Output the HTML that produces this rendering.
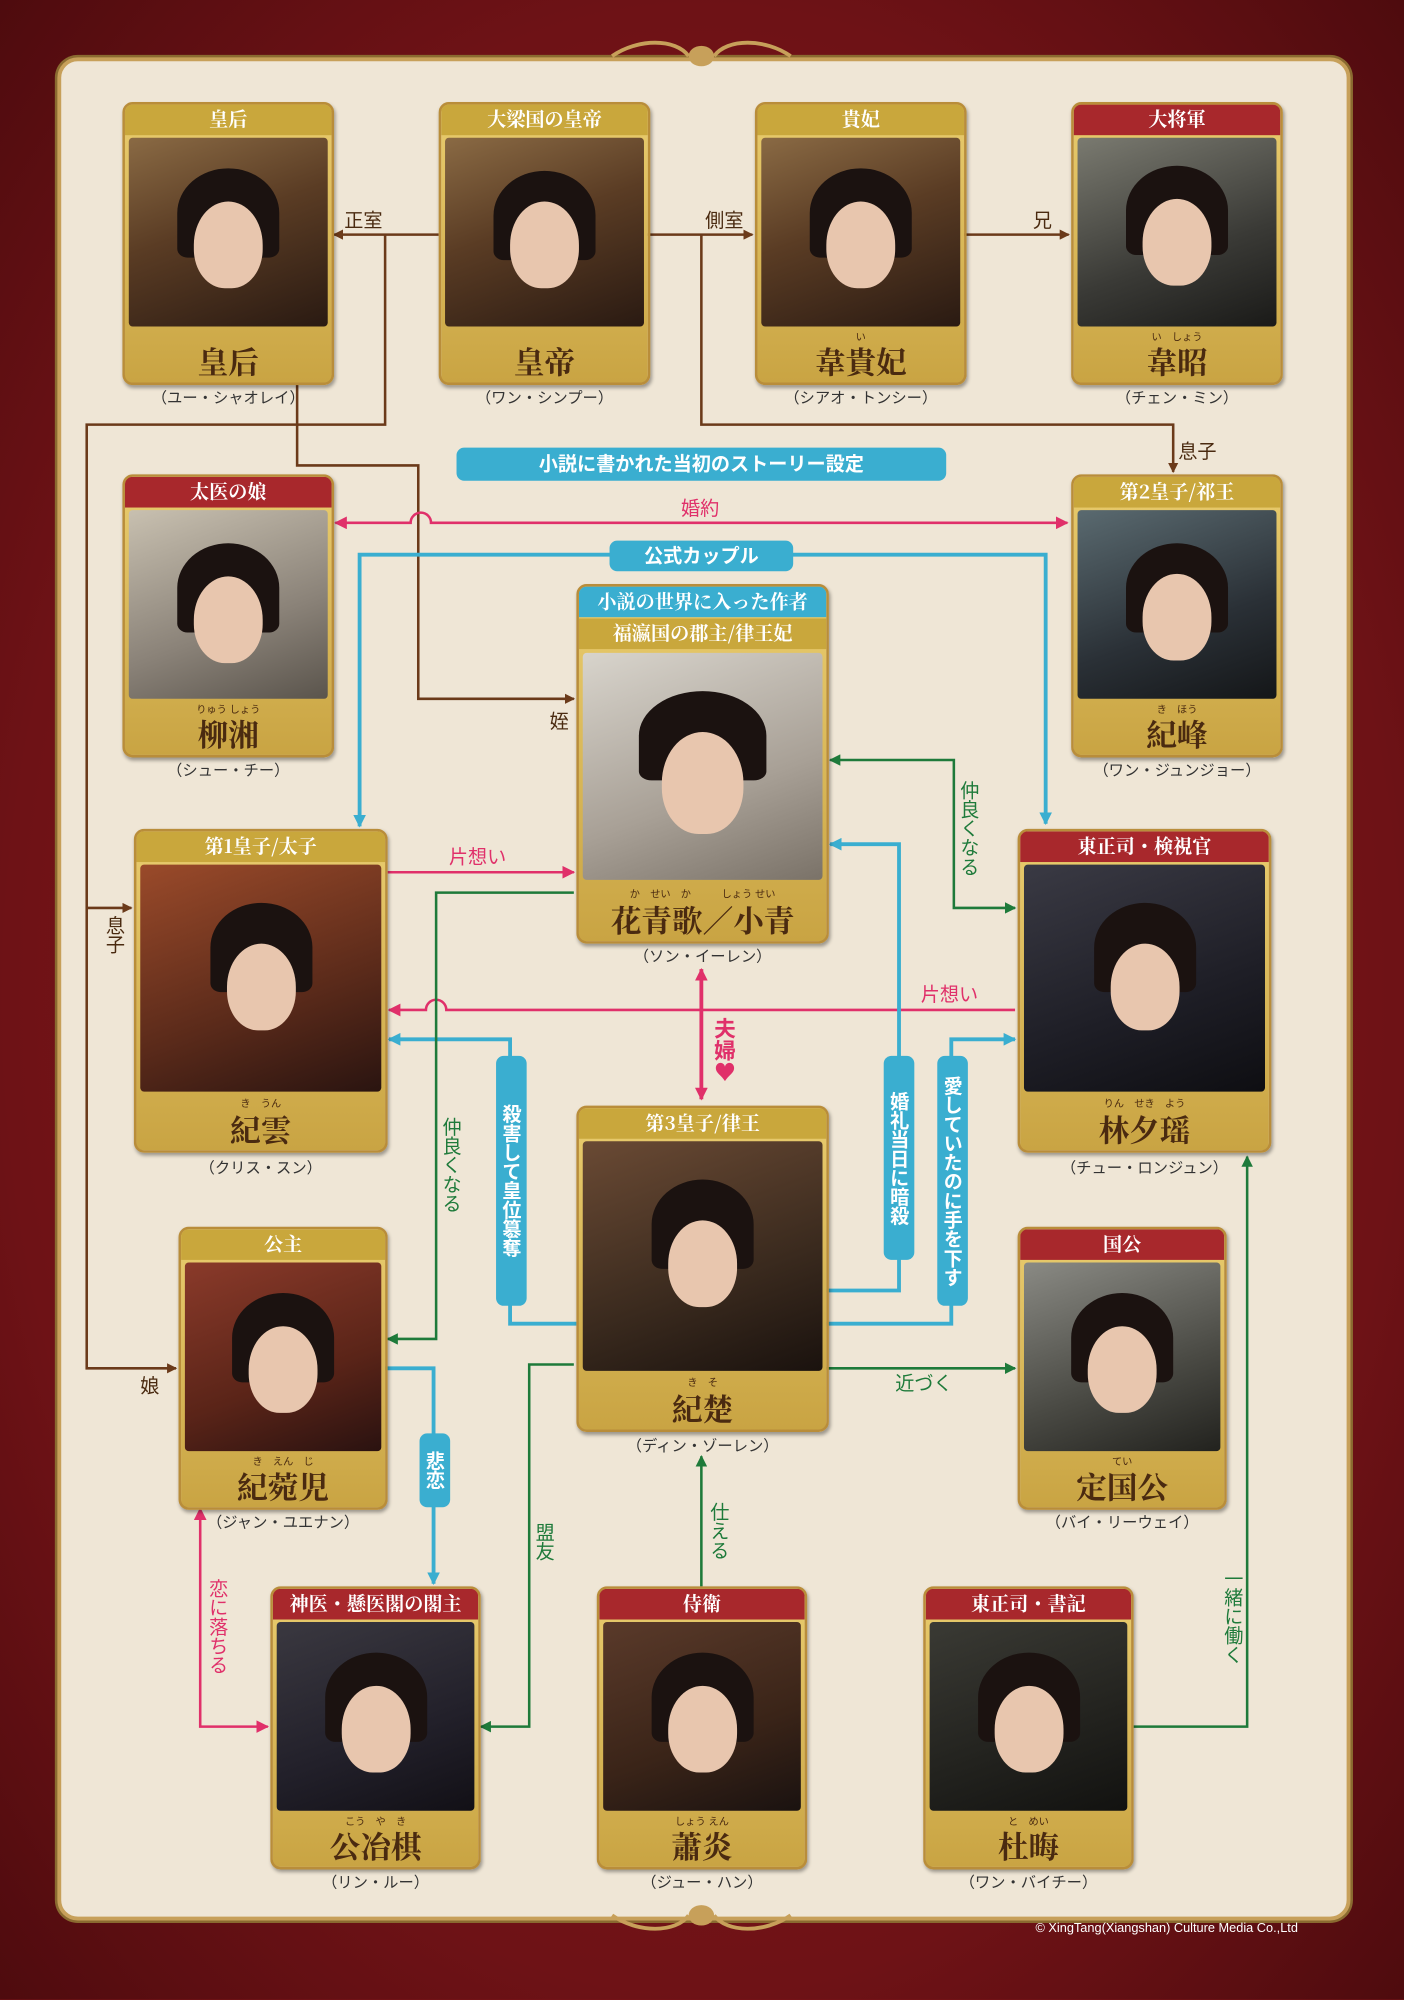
<!DOCTYPE html>
<html><head><meta charset="utf-8">
<style>
html,body{margin:0;padding:0;width:1404px;height:2000px;overflow:hidden;background:#7a1418;}
#wrap{position:absolute;left:0;top:0;width:1101px;height:1568px;transform:scale(1.27520);transform-origin:0 0;
background:radial-gradient(ellipse at 50% 50%,#8e1c20 0%,#6e1216 70%,#4e0b0e 100%);font-family:"Liberation Sans","Noto Sans CJK JP",sans-serif;}
#panel{position:absolute;left:45px;top:45px;width:1008px;height:1455px;background:#efe6d6;border:3px solid #c7a05a;border-radius:16px;box-shadow:0 0 0 2px #8a6a30;}
.card{position:absolute;border:2px solid #b98d3a;border-radius:8px;background:linear-gradient(#e9cc6e,#c9a443);box-shadow:1px 2px 3px rgba(0,0,0,.35);overflow:hidden;}
.hd{position:absolute;left:0;right:0;top:0;height:24px;background:#c9a73c;color:#fff;font-weight:bold;font-size:15px;text-align:center;line-height:24px;font-family:"Noto Serif CJK SC","Noto Sans CJK JP",serif;}
.hd.r{background:#a8282c;}
.hd.b{background:#3aaed0;}
.ph{position:absolute;left:3px;right:3px;border-radius:3px;background:linear-gradient(160deg,#8a6a44 0%,#5a3c24 45%,#2a1a12 100%);}
.face{position:absolute;left:50%;width:54px;height:68px;margin-left:-27px;border-radius:50% 50% 45% 45%;background:#e8c6ae;}
.hair{position:absolute;left:50%;width:80px;height:70px;margin-left:-40px;border-radius:50% 50% 10% 10%;background:#1b1210;}
.nm{position:absolute;left:0;right:0;bottom:3px;text-align:center;font-family:"Noto Serif CJK SC","Noto Sans CJK JP",serif;font-weight:bold;color:#4a2a10;font-size:24px;line-height:28px;}
.rb{position:absolute;left:0;right:0;text-align:center;font-size:8px;color:#4a2a10;}
.sub{position:absolute;font-size:12px;color:#333;text-align:center;font-family:"Noto Sans CJK JP",sans-serif;}
.lab{position:absolute;font-size:15px;font-family:"Noto Sans CJK JP",sans-serif;white-space:nowrap;}
.v{writing-mode:vertical-rl;}
.pill{position:absolute;background:#3aaed0;color:#fff;font-weight:bold;font-size:15px;border-radius:6px;text-align:center;font-family:"Noto Sans CJK JP",sans-serif;}
</style></head><body><div id="wrap">
<div id="panel"></div>

<svg style="position:absolute;left:0;top:0" width="1101" height="1568">
<defs>
<marker id="ab" markerWidth="8" markerHeight="8" refX="7" refY="4" orient="auto" markerUnits="userSpaceOnUse"><path d="M0,0L8,4L0,8z" fill="#6b3a1a"/></marker>
<marker id="ap" markerWidth="10" markerHeight="10" refX="9" refY="5" orient="auto-start-reverse" markerUnits="userSpaceOnUse"><path d="M0,0L10,5L0,10z" fill="#e0306a"/></marker>
<marker id="al" markerWidth="10" markerHeight="10" refX="9" refY="5" orient="auto-start-reverse" markerUnits="userSpaceOnUse"><path d="M0,0L10,5L0,10z" fill="#3aaed0"/></marker>
<marker id="ag" markerWidth="9" markerHeight="9" refX="8" refY="4.5" orient="auto-start-reverse" markerUnits="userSpaceOnUse"><path d="M0,0L9,4.5L0,9z" fill="#1e7a3a"/></marker>
</defs>
<g fill="none" stroke="#6b3a1a" stroke-width="2">
<path d="M344,184H262" marker-end="url(#ab)"/>
<path d="M508,184H590" marker-end="url(#ab)"/>
<path d="M756,184H838" marker-end="url(#ab)"/>
<path d="M302,184V333H68V1073H138" marker-end="url(#ab)"/>
<path d="M68,712H103" marker-end="url(#ab)"/>
<path d="M233,300V365H328V548H450" marker-end="url(#ab)"/>
<path d="M550,184V333H920V370" marker-end="url(#ab)"/>
</g>
<g fill="none" stroke="#e0306a" stroke-width="2">
<path d="M263,410H322A8,8 0 0 1 338,410H837" marker-start="url(#ap)" marker-end="url(#ap)"/>
<path d="M304,684H450" marker-end="url(#ap)"/>
<path d="M796,792H350A8,8 0 0 0 334,792H305" marker-end="url(#ap)"/>
<path d="M550,760V862" marker-start="url(#ap)" marker-end="url(#ap)" stroke-width="3"/>
<path d="M157,1183V1354H210" marker-start="url(#ap)" marker-end="url(#ap)"/>
</g>
<g fill="none" stroke="#3aaed0" stroke-width="3">
<path d="M282,648V435H820V646" marker-end="url(#al)" marker-start="url(#al)"/>
<path d="M452,1038H400V815H305" marker-end="url(#al)"/>
<path d="M648,1012H705V662H651" marker-end="url(#al)"/>
<path d="M648,1038H746V815H796" marker-end="url(#al)"/>
<path d="M302,1073H340V1242" marker-end="url(#al)"/>
</g>
<g fill="none" stroke="#1e7a3a" stroke-width="2">
<path d="M651,596H748V712H796" marker-start="url(#ag)" marker-end="url(#ag)"/>
<path d="M450,700H342V1050H304" marker-end="url(#ag)"/>
<path d="M648,1073H796" marker-end="url(#ag)"/>
<path d="M450,1070H415V1354H377" marker-end="url(#ag)"/>
<path d="M550,1244V1142" marker-end="url(#ag)"/>
<path d="M889,1354H978V907" marker-end="url(#ag)"/>
</g>
<g fill="none" stroke="#c7a05a" stroke-width="3">
<path d="M480,44C500,30 530,30 540,44M620,44C600,30 570,30 560,44"/>
<path d="M480,1502C500,1516 530,1516 540,1502M620,1502C600,1516 570,1516 560,1502"/>
</g>
<g fill="#c7a05a"><ellipse cx="550" cy="44" rx="10" ry="8"/><ellipse cx="550" cy="1502" rx="10" ry="8"/></g>
</svg>

<!-- labels -->
<div class="lab" style="left:270px;top:162px;color:#4a2a10">正室</div>
<div class="lab" style="left:553px;top:162px;color:#4a2a10">側室</div>
<div class="lab" style="left:810px;top:162px;color:#4a2a10">兄</div>
<div class="lab" style="left:924px;top:343px;color:#4a2a10">息子</div>
<div class="lab v" style="left:80px;top:718px;color:#4a2a10">息子</div>
<div class="lab" style="left:110px;top:1076px;color:#4a2a10">娘</div>
<div class="lab" style="left:431px;top:555px;color:#4a2a10">姪</div>
<div class="pill" style="left:358px;top:351px;width:384px;height:26px;line-height:26px;">小説に書かれた当初のストーリー設定</div>
<div class="lab" style="left:534px;top:388px;color:#e0306a">婚約</div>
<div class="pill" style="left:478px;top:424px;width:144px;height:24px;line-height:24px;">公式カップル</div>
<div class="lab" style="left:352px;top:661px;color:#e0306a">片想い</div>
<div class="lab" style="left:722px;top:769px;color:#e0306a">片想い</div>
<div class="lab v" style="left:750px;top:612px;color:#1e7a3a">仲良くなる</div>
<div class="lab v" style="left:344px;top:876px;color:#1e7a3a">仲良くなる</div>
<div class="lab v" style="left:556px;top:798px;color:#e0306a;font-weight:bold;font-size:17px">夫婦♥</div>
<div class="pill v" style="left:389px;top:828px;width:24px;height:196px;line-height:24px;">殺害して皇位簒奪</div>
<div class="pill v" style="left:693px;top:828px;width:24px;height:160px;line-height:24px;">婚礼当日に暗殺</div>
<div class="pill v" style="left:735px;top:828px;width:24px;height:196px;line-height:24px;">愛していたのに手を下す</div>
<div class="pill v" style="left:329px;top:1124px;width:24px;height:58px;line-height:24px;">悲恋</div>
<div class="lab" style="left:702px;top:1074px;color:#1e7a3a">近づく</div>
<div class="lab v" style="left:417px;top:1194px;color:#1e7a3a">盟友</div>
<div class="lab v" style="left:554px;top:1178px;color:#1e7a3a">仕える</div>
<div class="lab v" style="left:957px;top:1230px;color:#1e7a3a">一緒に働く</div>
<div class="lab v" style="left:161px;top:1238px;color:#e0306a">恋に落ちる</div>
<div style="position:absolute;left:812px;top:1507px;font-size:10px;color:#fff;">© XingTang(Xiangshan) Culture Media Co.,Ltd</div>

<!-- cards -->
<div class="card" style="left:96px;top:80px;width:162px;height:218px"><div class="hd">皇后</div><div class="ph" style="top:26px;height:148px"><div class="hair" style="top:24px"></div><div class="face" style="top:50px"></div></div><div class="nm">皇后</div></div>
<div class="sub" style="left:96px;top:303px;width:166px">（ユー・シャオレイ）</div>
<div class="card" style="left:344px;top:80px;width:162px;height:218px"><div class="hd">大梁国の皇帝</div><div class="ph" style="top:26px;height:148px"><div class="hair" style="top:26px"></div><div class="face" style="top:50px"></div></div><div class="nm">皇帝</div></div>
<div class="sub" style="left:344px;top:303px;width:166px">（ワン・シンプー）</div>
<div class="card" style="left:592px;top:80px;width:162px;height:218px"><div class="hd">貴妃</div><div class="ph" style="top:26px;height:148px"><div class="hair" style="top:24px"></div><div class="face" style="top:50px"></div></div><div class="rb" style="bottom:30px">い</div><div class="nm">韋貴妃</div></div>
<div class="sub" style="left:592px;top:303px;width:166px">（シアオ・トンシー）</div>
<div class="card" style="left:840px;top:80px;width:162px;height:218px"><div class="hd r">大将軍</div><div class="ph" style="top:26px;height:148px;background:linear-gradient(160deg,#7a7a70,#3a3a36 60%,#1a1a18)"><div class="hair" style="top:22px"></div><div class="face" style="top:48px"></div></div><div class="rb" style="bottom:30px">い　しょう</div><div class="nm">韋昭</div></div>
<div class="sub" style="left:840px;top:303px;width:166px">（チェン・ミン）</div>

<div class="card" style="left:96px;top:372px;width:162px;height:218px"><div class="hd r">太医の娘</div><div class="ph" style="top:26px;height:148px;background:linear-gradient(160deg,#c8c0b0,#8a8278 60%,#5a544c)"><div class="hair" style="top:26px"></div><div class="face" style="top:52px"></div></div><div class="rb" style="bottom:30px">りゅう しょう</div><div class="nm">柳湘</div></div>
<div class="sub" style="left:96px;top:595px;width:166px">（シュー・チー）</div>
<div class="card" style="left:840px;top:372px;width:162px;height:218px"><div class="hd">第2皇子/祁王</div><div class="ph" style="top:26px;height:148px;background:linear-gradient(160deg,#5a6a70,#2a3036 60%,#141618)"><div class="hair" style="top:26px"></div><div class="face" style="top:50px"></div></div><div class="rb" style="bottom:30px">き　ほう</div><div class="nm">紀峰</div></div>
<div class="sub" style="left:840px;top:595px;width:166px">（ワン・ジュンジョー）</div>

<div class="card" style="left:452px;top:458px;width:194px;height:278px"><div class="hd b">小説の世界に入った作者</div><div class="hd" style="top:25px">福瀛国の郡主/律王妃</div><div class="ph" style="top:52px;height:178px;background:linear-gradient(160deg,#d8d4cc,#a8a096 60%,#7a7268)"><div class="hair" style="top:30px;width:100px;margin-left:-50px"></div><div class="face" style="top:62px;width:64px;height:80px;margin-left:-32px"></div></div><div class="rb" style="bottom:31px">か　せい　か　　　しょう せい</div><div class="nm">花青歌／小青</div></div>
<div class="sub" style="left:452px;top:741px;width:198px">（ソン・イーレン）</div>

<div class="card" style="left:105px;top:650px;width:195px;height:250px"><div class="hd">第1皇子/太子</div><div class="ph" style="top:26px;height:178px;background:linear-gradient(160deg,#9a4a2a,#5a2a1a 60%,#2a1410)"><div class="hair" style="top:30px"></div><div class="face" style="top:62px"></div></div><div class="rb" style="bottom:31px">き　うん</div><div class="nm">紀雲</div></div>
<div class="sub" style="left:105px;top:907px;width:199px">（クリス・スン）</div>
<div class="card" style="left:798px;top:650px;width:195px;height:250px"><div class="hd r">東正司・検視官</div><div class="ph" style="top:26px;height:178px;background:linear-gradient(160deg,#3a3a44,#1e1e26 60%,#0e0e12)"><div class="hair" style="top:30px"></div><div class="face" style="top:62px"></div></div><div class="rb" style="bottom:31px">りん　せき　よう</div><div class="nm">林夕瑶</div></div>
<div class="sub" style="left:798px;top:907px;width:199px">（チュー・ロンジュン）</div>

<div class="card" style="left:452px;top:867px;width:194px;height:252px"><div class="hd">第3皇子/律王</div><div class="ph" style="top:26px;height:180px;background:linear-gradient(160deg,#6a4a34,#3a2a1e 60%,#1a120e)"><div class="hair" style="top:30px"></div><div class="face" style="top:62px"></div></div><div class="rb" style="bottom:31px">き　そ</div><div class="nm">紀楚</div></div>
<div class="sub" style="left:452px;top:1125px;width:198px">（ディン・ゾーレン）</div>

<div class="card" style="left:140px;top:962px;width:160px;height:218px"><div class="hd">公主</div><div class="ph" style="top:26px;height:148px;background:linear-gradient(160deg,#8a3a2a,#5a2418 60%,#2a1210)"><div class="hair" style="top:24px"></div><div class="face" style="top:50px"></div></div><div class="rb" style="bottom:30px">き　えん　じ</div><div class="nm">紀菀児</div></div>
<div class="sub" style="left:140px;top:1185px;width:164px">（ジャン・ユエナン）</div>
<div class="card" style="left:798px;top:962px;width:160px;height:218px"><div class="hd r">国公</div><div class="ph" style="top:26px;height:148px;background:linear-gradient(160deg,#8a8a84,#4a4a44 60%,#22221e)"><div class="hair" style="top:24px"></div><div class="face" style="top:50px"></div></div><div class="rb" style="bottom:30px">てい</div><div class="nm">定国公</div></div>
<div class="sub" style="left:798px;top:1185px;width:164px">（バイ・リーウェイ）</div>

<div class="card" style="left:212px;top:1244px;width:161px;height:218px"><div class="hd r">神医・懸医閣の閣主</div><div class="ph" style="top:26px;height:148px;background:linear-gradient(160deg,#3a3840,#22202a 60%,#121016)"><div class="hair" style="top:24px"></div><div class="face" style="top:50px"></div></div><div class="rb" style="bottom:30px">こう　や　き</div><div class="nm">公冶棋</div></div>
<div class="sub" style="left:212px;top:1467px;width:165px">（リン・ルー）</div>
<div class="card" style="left:468px;top:1244px;width:161px;height:218px"><div class="hd r">侍衛</div><div class="ph" style="top:26px;height:148px;background:linear-gradient(160deg,#5a3a2a,#3a2418 60%,#1a1210)"><div class="hair" style="top:24px"></div><div class="face" style="top:50px"></div></div><div class="rb" style="bottom:30px">しょう えん</div><div class="nm">蕭炎</div></div>
<div class="sub" style="left:468px;top:1467px;width:165px">（ジュー・ハン）</div>
<div class="card" style="left:724px;top:1244px;width:161px;height:218px"><div class="hd r">東正司・書記</div><div class="ph" style="top:26px;height:148px;background:linear-gradient(160deg,#3a3a34,#22221e 60%,#121210)"><div class="hair" style="top:24px"></div><div class="face" style="top:50px"></div></div><div class="rb" style="bottom:30px">と　めい</div><div class="nm">杜晦</div></div>
<div class="sub" style="left:724px;top:1467px;width:165px">（ワン・バイチー）</div>
</div></body></html>
